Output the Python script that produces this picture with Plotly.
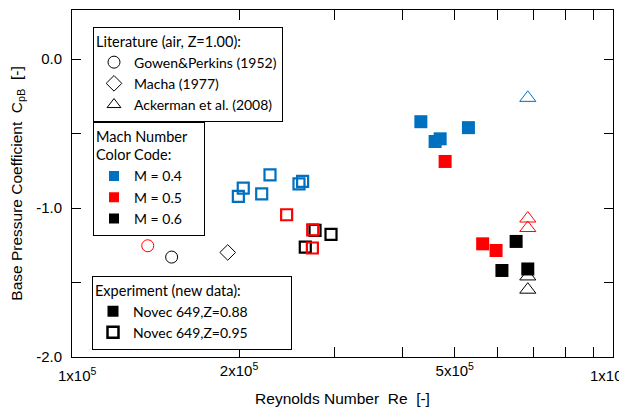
import plotly.graph_objects as go

BLUE = "#0070C0"
RED = "#FF0000"
BLACK = "#000000"

# ---- Literature (air, Z=1.00) ----
gowen_re = [1.357e5, 1.502e5]
gowen_cp = [-1.253, -1.329]
gowen_col = [RED, BLACK]

macha_re = [1.906e5]
macha_cp = [-1.298]
macha_col = [BLACK]

ack_re = [6.82e5, 6.82e5, 6.82e5, 6.82e5, 6.82e5]
ack_cp = [-0.26, -1.07, -1.134, -1.459, -1.548]
ack_col = [BLUE, RED, RED, BLACK, BLACK]

# ---- Experiment: Novec 649, Z=0.95 (open squares) ----
z95_re = [2.65e5, 2.762e5, 2.956e5, 2.448e5, 2.735e5, 2.731e5,
          1.994e5, 2.036e5, 2.202e5, 2.281e5, 2.58e5, 2.62e5]
z95_cp = [-1.262, -1.150, -1.177, -1.045, -1.146, -1.268,
          -0.922, -0.866, -0.904, -0.777, -0.837, -0.821]
z95_col = [BLACK] * 3 + [RED] * 3 + [BLUE] * 6

# ---- Experiment: Novec 649, Z=0.88 (filled squares) ----
z88_re = [6.49e5, 6.11e5, 6.82e5, 4.80e5, 5.63e5, 5.96e5,
          4.33e5, 4.60e5, 4.70e5, 5.30e5]
z88_cp = [-1.224, -1.419, -1.409, -0.687, -1.24, -1.285,
          -0.42, -0.553, -0.535, -0.46]
z88_col = [BLACK] * 3 + [RED] * 3 + [BLUE] * 4

# ---- Axis ticks ----
x_tickvals = [2e5, 3e5, 4e5, 5e5, 6e5, 7e5, 8e5, 9e5]
x_ticktext = ["2x10<sup>5</sup>", "", "", "5x10<sup>5</sup>", "", "", "", ""]
x_edge_labels = ["1x10<sup>5</sup>", "1x10<sup>6</sup>"]   # labels at the axis ends
y_tickvals = [-2.0, -1.5, -1.0, -0.5, 0.0]
y_ticktext = ["-2.0", "", "-1.0", "", "0.0"]

# ---- Legend entries ----
lit_names = ["Gowen&Perkins (1952)", "Macha (1977)", "Ackerman et al. (2008)"]
lit_symbols = ["circle-open", "diamond-open", "triangle-up-open"]
mach_names = ["M = 0.4", "M = 0.5", "M = 0.6"]
mach_colors = [BLUE, RED, BLACK]
exp_names = ["Novec 649,Z=0.88", "Novec 649,Z=0.95"]
exp_symbols = ["square", "square-open"]

AX_FONT = "Liberation Sans, Arial, sans-serif"

# page body has an 8px margin: figure is 8px smaller and margins compensate
W, H, OFF = 627 - 8, 409 - 8, 8
ML, MR, MT, MB = 72 - OFF, 14, 10 - OFF, 52
PW = W - ML - MR   # plot width in px
PH = H - MT - MB   # plot height in px


def px(xpix):
    return (xpix - 72) / PW


def py(ypix):
    return (357 - ypix) / PH


fig = go.Figure()

fig.add_trace(go.Scatter(x=gowen_re, y=gowen_cp, mode="markers", showlegend=False,
                         marker=dict(symbol="circle-open", size=12, color=gowen_col, line=dict(width=1))))
fig.add_trace(go.Scatter(x=macha_re, y=macha_cp, mode="markers", showlegend=False,
                         marker=dict(symbol="diamond-open", size=12, color=macha_col, line=dict(width=1))))
fig.add_trace(go.Scatter(x=ack_re, y=ack_cp, mode="markers", showlegend=False,
                         marker=dict(symbol="triangle-up-open", size=14, color=ack_col, line=dict(width=1))))
fig.add_trace(go.Scatter(x=z95_re, y=z95_cp, mode="markers", showlegend=False,
                         marker=dict(symbol="square-open", size=11, color=z95_col, line=dict(width=2.2))))
fig.add_trace(go.Scatter(x=z88_re, y=z88_cp, mode="markers", showlegend=False,
                         marker=dict(symbol="square", size=13, color=z88_col, line=dict(width=0))))

# legend-only traces
for name, sym in zip(lit_names, lit_symbols):
    fig.add_trace(go.Scatter(x=[None], y=[None], mode="markers", name=name, legend="legend",
                             marker=dict(symbol=sym, size=12, color=BLACK, line=dict(width=1, color=BLACK))))
for name, col in zip(mach_names, mach_colors):
    fig.add_trace(go.Scatter(x=[None], y=[None], mode="markers", name=name, legend="legend2",
                             marker=dict(symbol="square", size=10, color=col, line=dict(width=0))))
for name, sym in zip(exp_names, exp_symbols):
    fig.add_trace(go.Scatter(x=[None], y=[None], mode="markers", name=name, legend="legend3",
                             marker=dict(symbol=sym, size=11, color=BLACK,
                                         line=dict(width=2.5 if sym.endswith("open") else 0, color=BLACK))))

item_font = dict(family="Lato, Noto Sans, sans-serif", size=14, color="black")
title_font = dict(family="Lato, Noto Sans, sans-serif", size=14.5, color="black")
leg_common = dict(bgcolor="white", bordercolor="black", borderwidth=1, font=item_font,
                  xanchor="left", yanchor="top", itemclick=False, traceorder="normal")

NB = "\u00a0"
fig.update_layout(
    width=W, height=H,
    margin=dict(l=ML, r=MR, t=MT, b=MB, pad=0),
    paper_bgcolor="white", plot_bgcolor="white",
    font=dict(family=AX_FONT, size=15, color="black"),
    legend=dict(x=px(93), y=py(26.7),
                title=dict(text="Literature (air, Z=1.00):" + NB * 2, font=title_font), **leg_common),
    legend2=dict(x=px(93), y=py(121.7),
                 title=dict(text="Mach Number" + NB * 4 + "<br>Color Code:", font=title_font), **leg_common),
    legend3=dict(x=px(92), y=py(275.7),
                 title=dict(text="Experiment (new data):" + NB * 13, font=title_font), **leg_common),
    annotations=[
        dict(text=x_edge_labels[0], x=px(77), xref="paper", y=0, yref="paper",
             showarrow=False, xanchor="center", yanchor="top", yshift=-6,
             font=dict(family=AX_FONT, size=15, color="black")),
        dict(text=x_edge_labels[1], x=px(588), xref="paper", y=0, yref="paper",
             showarrow=False, xanchor="left", yanchor="top", yshift=-6,
             font=dict(family=AX_FONT, size=15, color="black")),
    ],
)

fig.update_xaxes(
    type="log", range=[4.9928, 5.991], automargin=False,
    tickvals=x_tickvals, ticktext=x_ticktext, ticks="inside", ticklen=10, tickcolor="black",
    tickfont=dict(family=AX_FONT, size=15),
    showline=True, linecolor="black", linewidth=1, mirror="allticks",
    showgrid=False, zeroline=False,
    title=dict(text="Reynolds Number" + NB * 2 + "Re" + NB * 2 + "[-]", standoff=15,
               font=dict(family=AX_FONT, size=15.5)),
)
fig.update_yaxes(
    range=[-2.0, 0.33], automargin=False,
    tickvals=y_tickvals, ticktext=y_ticktext, ticks="inside", ticklen=9, tickcolor="black",
    tickfont=dict(family=AX_FONT, size=15),
    ticklabelstandoff=6,
    showline=True, linecolor="black", linewidth=1, mirror="allticks",
    showgrid=False, zeroline=False,
    title=dict(text="Base Pressure Coefficient" + NB * 2 + "C<sub>pB</sub>" + NB * 2 + "[-]", standoff=10,
               font=dict(family=AX_FONT, size=15.5)),
)

fig.write_html("out.html")
